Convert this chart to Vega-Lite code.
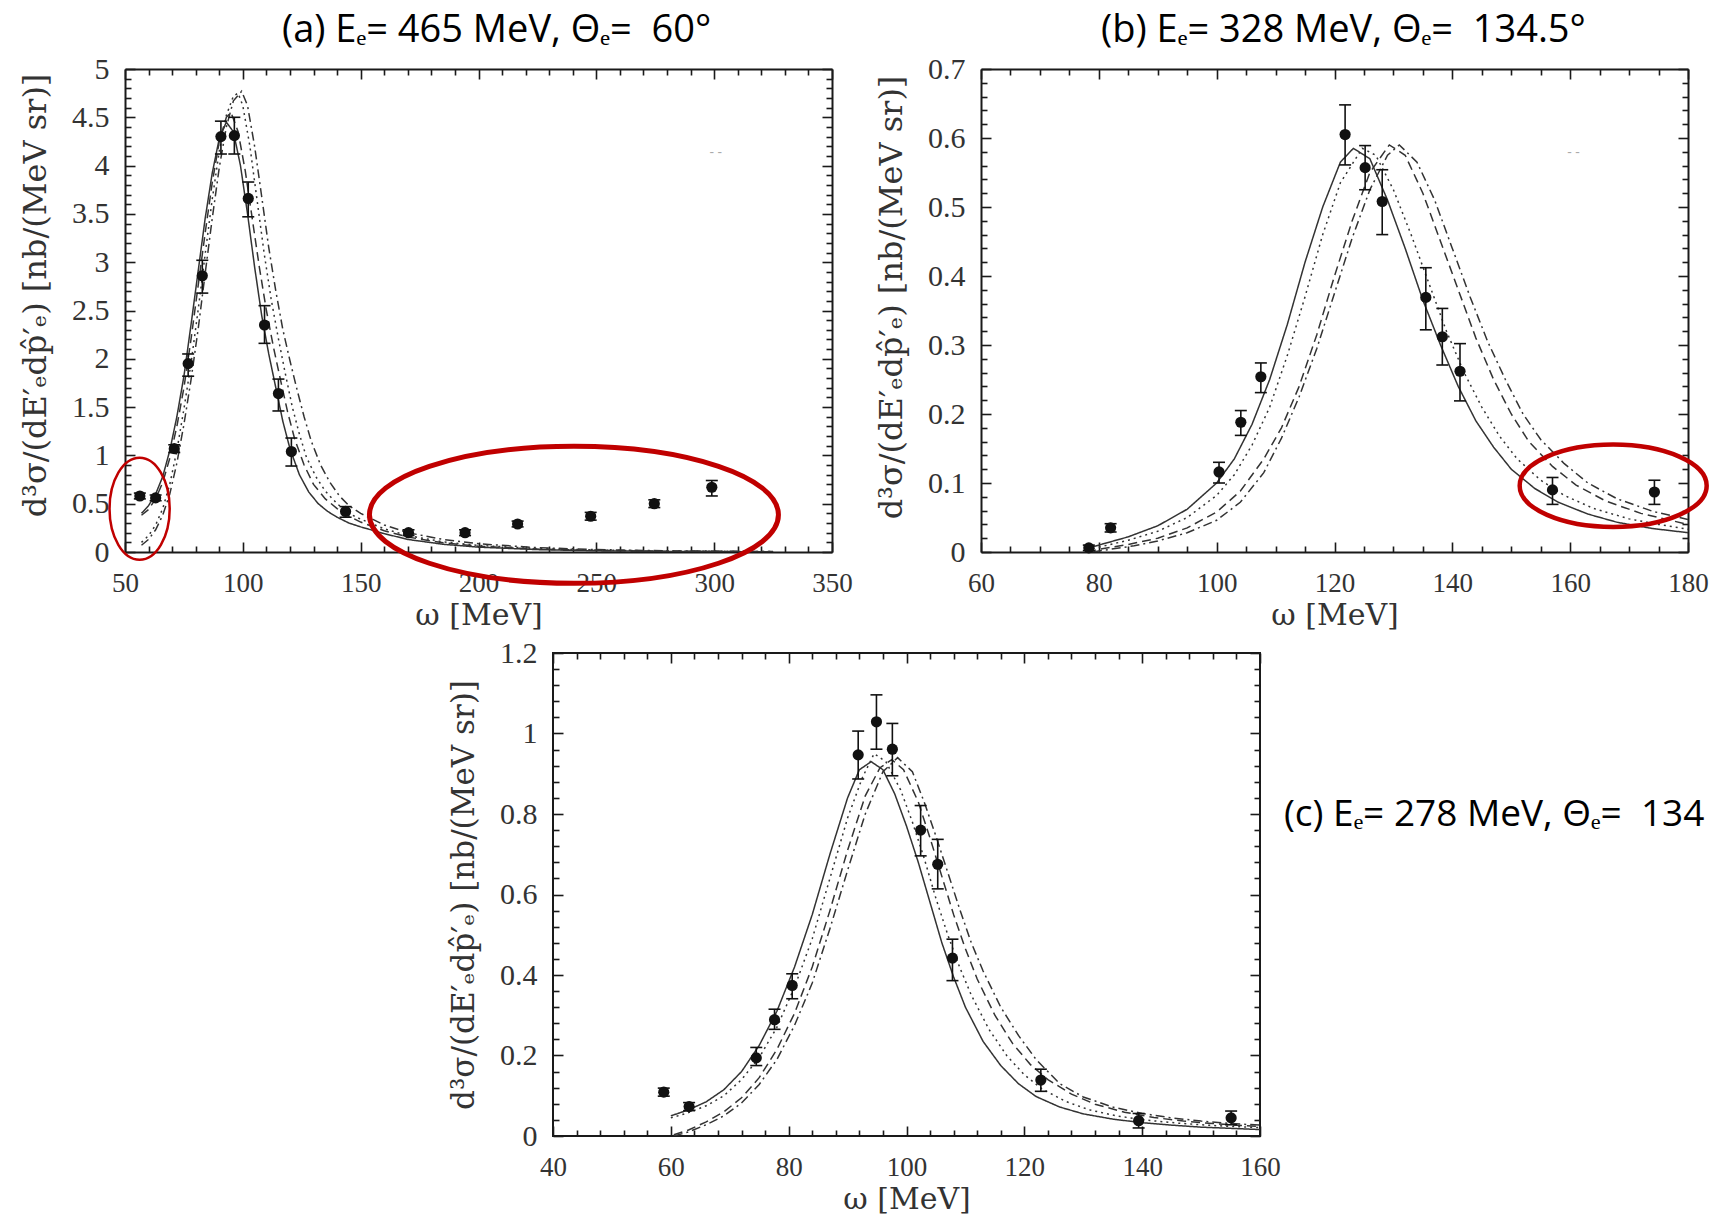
{
"$schema": "https://vega.github.io/schema/vega-lite/v6.json",
"background": "white",
"padding": {"left": 19, "top": 11, "right": 0, "bottom": 0},
"config": {
  "view": {"stroke": "#1a1a1a", "strokeWidth": 2},
  "axis": {"domain": false, "grid": false, "tickColor": "#1a1a1a", "tickWidth": 1.6, "domainColor": "#1a1a1a", "domainWidth": 2, "labelFont": "Liberation Serif", "labelFontSize": 27, "labelColor": "#333333", "titleFont": "DejaVu Serif", "titleFontSize": 30, "titleFontWeight": "normal", "titleColor": "#333333", "labelOverlap": false, "labelFlush": false, "labelBound": false},
  "line": {"strokeWidth": 1.5, "color": "#333333"}
},
"datasets": {
  "a_curves": [
    {"s":"solid","w":57,"v":0.40},{"s":"solid","w":60,"v":0.48},{"s":"solid","w":63,"v":0.60},{"s":"solid","w":66,"v":0.78},{"s":"solid","w":69,"v":1.05},{"s":"solid","w":72,"v":1.40},{"s":"solid","w":75,"v":1.82},{"s":"solid","w":78,"v":2.35},{"s":"solid","w":81,"v":2.90},{"s":"solid","w":84,"v":3.45},{"s":"solid","w":87,"v":3.92},{"s":"solid","w":90,"v":4.28},{"s":"solid","w":93,"v":4.45},{"s":"solid","w":96,"v":4.35},{"s":"solid","w":99,"v":4.0},{"s":"solid","w":102,"v":3.5},{"s":"solid","w":105,"v":2.95},{"s":"solid","w":108,"v":2.45},{"s":"solid","w":111,"v":2.05},{"s":"solid","w":114,"v":1.7},{"s":"solid","w":117,"v":1.35},{"s":"solid","w":120,"v":1.07},{"s":"solid","w":124,"v":0.80},{"s":"solid","w":128,"v":0.62},{"s":"solid","w":132,"v":0.50},{"s":"solid","w":136,"v":0.42},{"s":"solid","w":140,"v":0.36},{"s":"solid","w":145,"v":0.30},{"s":"solid","w":150,"v":0.26},{"s":"solid","w":160,"v":0.19},{"s":"solid","w":170,"v":0.13},{"s":"solid","w":185,"v":0.08},{"s":"solid","w":200,"v":0.05},{"s":"solid","w":225,"v":0.025},{"s":"solid","w":250,"v":0.012},{"s":"solid","w":280,"v":0.006},{"s":"solid","w":325,"v":0.002},
    {"s":"dashed","w":57,"v":0.38},{"s":"dashed","w":60,"v":0.44},{"s":"dashed","w":63,"v":0.55},{"s":"dashed","w":66,"v":0.72},{"s":"dashed","w":69,"v":0.97},{"s":"dashed","w":72,"v":1.30},{"s":"dashed","w":75,"v":1.70},{"s":"dashed","w":78,"v":2.20},{"s":"dashed","w":81,"v":2.75},{"s":"dashed","w":84,"v":3.30},{"s":"dashed","w":87,"v":3.82},{"s":"dashed","w":90,"v":4.25},{"s":"dashed","w":93,"v":4.50},{"s":"dashed","w":95,"v":4.55},{"s":"dashed","w":98,"v":4.35},{"s":"dashed","w":101,"v":3.95},{"s":"dashed","w":104,"v":3.45},{"s":"dashed","w":107,"v":2.95},{"s":"dashed","w":110,"v":2.50},{"s":"dashed","w":113,"v":2.12},{"s":"dashed","w":116,"v":1.78},{"s":"dashed","w":119,"v":1.45},{"s":"dashed","w":122,"v":1.17},{"s":"dashed","w":126,"v":0.90},{"s":"dashed","w":130,"v":0.70},{"s":"dashed","w":135,"v":0.55},{"s":"dashed","w":140,"v":0.45},{"s":"dashed","w":145,"v":0.37},{"s":"dashed","w":150,"v":0.31},{"s":"dashed","w":160,"v":0.22},{"s":"dashed","w":170,"v":0.155},{"s":"dashed","w":185,"v":0.095},{"s":"dashed","w":200,"v":0.06},{"s":"dashed","w":225,"v":0.03},{"s":"dashed","w":250,"v":0.016},{"s":"dashed","w":280,"v":0.008},{"s":"dashed","w":325,"v":0.003},
    {"s":"dotted","w":57,"v":0.10},{"s":"dotted","w":60,"v":0.17},{"s":"dotted","w":63,"v":0.28},{"s":"dotted","w":66,"v":0.45},{"s":"dotted","w":69,"v":0.70},{"s":"dotted","w":72,"v":1.05},{"s":"dotted","w":75,"v":1.48},{"s":"dotted","w":78,"v":1.95},{"s":"dotted","w":81,"v":2.50},{"s":"dotted","w":84,"v":3.08},{"s":"dotted","w":87,"v":3.65},{"s":"dotted","w":90,"v":4.15},{"s":"dotted","w":93,"v":4.52},{"s":"dotted","w":96,"v":4.72},{"s":"dotted","w":98,"v":4.75},{"s":"dotted","w":100,"v":4.62},{"s":"dotted","w":103,"v":4.20},{"s":"dotted","w":106,"v":3.65},{"s":"dotted","w":109,"v":3.10},{"s":"dotted","w":112,"v":2.62},{"s":"dotted","w":115,"v":2.22},{"s":"dotted","w":118,"v":1.85},{"s":"dotted","w":121,"v":1.50},{"s":"dotted","w":124,"v":1.22},{"s":"dotted","w":127,"v":0.98},{"s":"dotted","w":131,"v":0.78},{"s":"dotted","w":135,"v":0.63},{"s":"dotted","w":140,"v":0.50},{"s":"dotted","w":145,"v":0.40},{"s":"dotted","w":150,"v":0.34},{"s":"dotted","w":160,"v":0.24},{"s":"dotted","w":170,"v":0.17},{"s":"dotted","w":185,"v":0.105},{"s":"dotted","w":200,"v":0.068},{"s":"dotted","w":225,"v":0.035},{"s":"dotted","w":250,"v":0.02},{"s":"dotted","w":280,"v":0.01},{"s":"dotted","w":325,"v":0.004},
    {"s":"dashdot","w":57,"v":0.07},{"s":"dashdot","w":60,"v":0.13},{"s":"dashdot","w":63,"v":0.23},{"s":"dashdot","w":66,"v":0.38},{"s":"dashdot","w":69,"v":0.60},{"s":"dashdot","w":72,"v":0.92},{"s":"dashdot","w":75,"v":1.32},{"s":"dashdot","w":78,"v":1.78},{"s":"dashdot","w":81,"v":2.30},{"s":"dashdot","w":84,"v":2.88},{"s":"dashdot","w":87,"v":3.45},{"s":"dashdot","w":90,"v":3.98},{"s":"dashdot","w":93,"v":4.40},{"s":"dashdot","w":96,"v":4.67},{"s":"dashdot","w":99.5,"v":4.77},{"s":"dashdot","w":102,"v":4.62},{"s":"dashdot","w":105,"v":4.20},{"s":"dashdot","w":108,"v":3.68},{"s":"dashdot","w":111,"v":3.15},{"s":"dashdot","w":114,"v":2.70},{"s":"dashdot","w":117,"v":2.30},{"s":"dashdot","w":120,"v":1.98},{"s":"dashdot","w":123,"v":1.68},{"s":"dashdot","w":126,"v":1.40},{"s":"dashdot","w":129,"v":1.15},{"s":"dashdot","w":133,"v":0.90},{"s":"dashdot","w":137,"v":0.72},{"s":"dashdot","w":141,"v":0.58},{"s":"dashdot","w":145,"v":0.48},{"s":"dashdot","w":150,"v":0.40},{"s":"dashdot","w":160,"v":0.28},{"s":"dashdot","w":170,"v":0.20},{"s":"dashdot","w":185,"v":0.13},{"s":"dashdot","w":200,"v":0.085},{"s":"dashdot","w":225,"v":0.045},{"s":"dashdot","w":250,"v":0.025},{"s":"dashdot","w":280,"v":0.012},{"s":"dashdot","w":325,"v":0.005}
  ],
  "a_pts": [
    {"w":56.3,"v":0.58,"lo":0.55,"hi":0.61},{"w":63.0,"v":0.56,"lo":0.53,"hi":0.59},{"w":70.9,"v":1.07,"lo":1.03,"hi":1.11},{"w":76.8,"v":1.95,"lo":1.82,"hi":2.05},{"w":82.8,"v":2.86,"lo":2.68,"hi":3.02},{"w":90.7,"v":4.30,"lo":4.12,"hi":4.46},{"w":96.4,"v":4.31,"lo":4.12,"hi":4.50},{"w":102.3,"v":3.66,"lo":3.47,"hi":3.83},{"w":109.2,"v":2.35,"lo":2.16,"hi":2.55},{"w":115.1,"v":1.64,"lo":1.46,"hi":1.79},{"w":120.6,"v":1.04,"lo":0.89,"hi":1.18},{"w":143.6,"v":0.42,"lo":0.36,"hi":0.47},{"w":170.3,"v":0.20,"lo":0.17,"hi":0.23},{"w":194.3,"v":0.20,"lo":0.17,"hi":0.23},{"w":216.6,"v":0.29,"lo":0.26,"hi":0.32},{"w":247.6,"v":0.37,"lo":0.33,"hi":0.41},{"w":274.6,"v":0.50,"lo":0.46,"hi":0.54},{"w":299.0,"v":0.67,"lo":0.58,"hi":0.74}
  ],
  "b_curves": [
    {"s":"solid","w":78,"v":0.005},{"s":"solid","w":80,"v":0.010},{"s":"solid","w":85,"v":0.022},{"s":"solid","w":90,"v":0.038},{"s":"solid","w":95,"v":0.062},{"s":"solid","w":100,"v":0.100},{"s":"solid","w":103,"v":0.135},{"s":"solid","w":106,"v":0.185},{"s":"solid","w":109,"v":0.25},{"s":"solid","w":112,"v":0.33},{"s":"solid","w":115,"v":0.42},{"s":"solid","w":118,"v":0.50},{"s":"solid","w":121,"v":0.565},{"s":"solid","w":123.2,"v":0.585},{"s":"solid","w":126,"v":0.57},{"s":"solid","w":129,"v":0.51},{"s":"solid","w":132,"v":0.44},{"s":"solid","w":135,"v":0.365},{"s":"solid","w":138,"v":0.30},{"s":"solid","w":141,"v":0.24},{"s":"solid","w":144,"v":0.19},{"s":"solid","w":147,"v":0.152},{"s":"solid","w":150,"v":0.12},{"s":"solid","w":154,"v":0.092},{"s":"solid","w":158,"v":0.072},{"s":"solid","w":163,"v":0.055},{"s":"solid","w":168,"v":0.043},{"s":"solid","w":174,"v":0.034},{"s":"solid","w":180,"v":0.028},
    {"s":"dotted","w":78,"v":0.003},{"s":"dotted","w":80,"v":0.007},{"s":"dotted","w":85,"v":0.017},{"s":"dotted","w":90,"v":0.030},{"s":"dotted","w":95,"v":0.050},{"s":"dotted","w":100,"v":0.082},{"s":"dotted","w":103,"v":0.112},{"s":"dotted","w":106,"v":0.155},{"s":"dotted","w":109,"v":0.21},{"s":"dotted","w":112,"v":0.285},{"s":"dotted","w":115,"v":0.37},{"s":"dotted","w":118,"v":0.46},{"s":"dotted","w":121,"v":0.535},{"s":"dotted","w":124.7,"v":0.585},{"s":"dotted","w":127,"v":0.575},{"s":"dotted","w":130,"v":0.525},{"s":"dotted","w":133,"v":0.46},{"s":"dotted","w":136,"v":0.39},{"s":"dotted","w":139,"v":0.32},{"s":"dotted","w":142,"v":0.26},{"s":"dotted","w":145,"v":0.21},{"s":"dotted","w":148,"v":0.168},{"s":"dotted","w":151,"v":0.135},{"s":"dotted","w":155,"v":0.104},{"s":"dotted","w":159,"v":0.082},{"s":"dotted","w":164,"v":0.063},{"s":"dotted","w":170,"v":0.048},{"s":"dotted","w":175,"v":0.04},{"s":"dotted","w":180,"v":0.033},
    {"s":"dashed","w":78,"v":0.0},{"s":"dashed","w":80,"v":0.004},{"s":"dashed","w":85,"v":0.011},{"s":"dashed","w":90,"v":0.020},{"s":"dashed","w":95,"v":0.035},{"s":"dashed","w":100,"v":0.058},{"s":"dashed","w":104,"v":0.088},{"s":"dashed","w":108,"v":0.135},{"s":"dashed","w":111,"v":0.18},{"s":"dashed","w":114,"v":0.24},{"s":"dashed","w":117,"v":0.315},{"s":"dashed","w":120,"v":0.40},{"s":"dashed","w":123,"v":0.48},{"s":"dashed","w":126,"v":0.55},{"s":"dashed","w":129.3,"v":0.59},{"s":"dashed","w":132,"v":0.575},{"s":"dashed","w":135,"v":0.52},{"s":"dashed","w":138,"v":0.45},{"s":"dashed","w":141,"v":0.38},{"s":"dashed","w":144,"v":0.31},{"s":"dashed","w":147,"v":0.25},{"s":"dashed","w":150,"v":0.20},{"s":"dashed","w":153,"v":0.16},{"s":"dashed","w":157,"v":0.124},{"s":"dashed","w":161,"v":0.097},{"s":"dashed","w":166,"v":0.074},{"s":"dashed","w":172,"v":0.056},{"s":"dashed","w":180,"v":0.04},
    {"s":"dashdot","w":79,"v":0.0},{"s":"dashdot","w":82,"v":0.004},{"s":"dashdot","w":86,"v":0.009},{"s":"dashdot","w":90,"v":0.016},{"s":"dashdot","w":95,"v":0.028},{"s":"dashdot","w":100,"v":0.046},{"s":"dashdot","w":104,"v":0.072},{"s":"dashdot","w":108,"v":0.115},{"s":"dashdot","w":111,"v":0.165},{"s":"dashdot","w":114,"v":0.225},{"s":"dashdot","w":117,"v":0.295},{"s":"dashdot","w":120,"v":0.375},{"s":"dashdot","w":123,"v":0.455},{"s":"dashdot","w":126,"v":0.525},{"s":"dashdot","w":129,"v":0.575},{"s":"dashdot","w":131,"v":0.59},{"s":"dashdot","w":134,"v":0.565},{"s":"dashdot","w":137,"v":0.51},{"s":"dashdot","w":140,"v":0.44},{"s":"dashdot","w":143,"v":0.37},{"s":"dashdot","w":146,"v":0.305},{"s":"dashdot","w":149,"v":0.25},{"s":"dashdot","w":152,"v":0.20},{"s":"dashdot","w":155,"v":0.163},{"s":"dashdot","w":159,"v":0.128},{"s":"dashdot","w":163,"v":0.10},{"s":"dashdot","w":168,"v":0.077},{"s":"dashdot","w":174,"v":0.059},{"s":"dashdot","w":180,"v":0.047}
  ],
  "b_pts": [
    {"w":78.3,"v":0.006,"lo":0.002,"hi":0.010},{"w":82.0,"v":0.035,"lo":0.029,"hi":0.041},{"w":100.4,"v":0.116,"lo":0.100,"hi":0.130},{"w":104.1,"v":0.188,"lo":0.169,"hi":0.205},{"w":107.5,"v":0.254,"lo":0.231,"hi":0.274},{"w":121.8,"v":0.605,"lo":0.561,"hi":0.648},{"w":125.2,"v":0.557,"lo":0.525,"hi":0.589},{"w":128.1,"v":0.508,"lo":0.460,"hi":0.554},{"w":135.5,"v":0.369,"lo":0.322,"hi":0.412},{"w":138.3,"v":0.312,"lo":0.271,"hi":0.353},{"w":141.3,"v":0.262,"lo":0.219,"hi":0.302},{"w":157.0,"v":0.090,"lo":0.069,"hi":0.108},{"w":174.3,"v":0.087,"lo":0.069,"hi":0.104}
  ],
  "c_curves": [
    {"s":"solid","w":60,"v":0.050},{"s":"solid","w":63,"v":0.065},{"s":"solid","w":66,"v":0.085},{"s":"solid","w":69,"v":0.115},{"s":"solid","w":72,"v":0.16},{"s":"solid","w":75,"v":0.225},{"s":"solid","w":78,"v":0.31},{"s":"solid","w":81,"v":0.42},{"s":"solid","w":84,"v":0.55},{"s":"solid","w":87,"v":0.70},{"s":"solid","w":90,"v":0.84},{"s":"solid","w":92,"v":0.91},{"s":"solid","w":94,"v":0.93},{"s":"solid","w":96,"v":0.91},{"s":"solid","w":98,"v":0.85},{"s":"solid","w":100,"v":0.77},{"s":"solid","w":102,"v":0.68},{"s":"solid","w":104,"v":0.58},{"s":"solid","w":106,"v":0.48},{"s":"solid","w":108,"v":0.395},{"s":"solid","w":110,"v":0.32},{"s":"solid","w":113,"v":0.235},{"s":"solid","w":116,"v":0.175},{"s":"solid","w":119,"v":0.13},{"s":"solid","w":122,"v":0.098},{"s":"solid","w":126,"v":0.072},{"s":"solid","w":130,"v":0.055},{"s":"solid","w":135,"v":0.042},{"s":"solid","w":140,"v":0.033},{"s":"solid","w":145,"v":0.027},{"s":"solid","w":150,"v":0.022},{"s":"solid","w":155,"v":0.019},{"s":"solid","w":160,"v":0.016},
    {"s":"dotted","w":60,"v":0.045},{"s":"dotted","w":63,"v":0.058},{"s":"dotted","w":66,"v":0.075},{"s":"dotted","w":69,"v":0.10},{"s":"dotted","w":72,"v":0.14},{"s":"dotted","w":75,"v":0.195},{"s":"dotted","w":78,"v":0.27},{"s":"dotted","w":81,"v":0.37},{"s":"dotted","w":84,"v":0.49},{"s":"dotted","w":87,"v":0.64},{"s":"dotted","w":90,"v":0.79},{"s":"dotted","w":92.5,"v":0.89},{"s":"dotted","w":94.5,"v":0.95},{"s":"dotted","w":96.5,"v":0.93},{"s":"dotted","w":99,"v":0.86},{"s":"dotted","w":101,"v":0.78},{"s":"dotted","w":103,"v":0.69},{"s":"dotted","w":105,"v":0.59},{"s":"dotted","w":107,"v":0.50},{"s":"dotted","w":109,"v":0.42},{"s":"dotted","w":111,"v":0.35},{"s":"dotted","w":114,"v":0.265},{"s":"dotted","w":117,"v":0.20},{"s":"dotted","w":120,"v":0.152},{"s":"dotted","w":123,"v":0.117},{"s":"dotted","w":127,"v":0.086},{"s":"dotted","w":131,"v":0.065},{"s":"dotted","w":136,"v":0.049},{"s":"dotted","w":141,"v":0.039},{"s":"dotted","w":146,"v":0.032},{"s":"dotted","w":151,"v":0.027},{"s":"dotted","w":156,"v":0.023},{"s":"dotted","w":160,"v":0.021},
    {"s":"dashed","w":60.5,"v":0.003},{"s":"dashed","w":63,"v":0.015},{"s":"dashed","w":66,"v":0.035},{"s":"dashed","w":69,"v":0.06},{"s":"dashed","w":72,"v":0.095},{"s":"dashed","w":75,"v":0.145},{"s":"dashed","w":78,"v":0.215},{"s":"dashed","w":81,"v":0.305},{"s":"dashed","w":84,"v":0.42},{"s":"dashed","w":87,"v":0.56},{"s":"dashed","w":90,"v":0.71},{"s":"dashed","w":93,"v":0.845},{"s":"dashed","w":95.5,"v":0.915},{"s":"dashed","w":97.5,"v":0.935},{"s":"dashed","w":99.5,"v":0.91},{"s":"dashed","w":102,"v":0.83},{"s":"dashed","w":104,"v":0.74},{"s":"dashed","w":106,"v":0.645},{"s":"dashed","w":108,"v":0.55},{"s":"dashed","w":110,"v":0.465},{"s":"dashed","w":112,"v":0.39},{"s":"dashed","w":115,"v":0.30},{"s":"dashed","w":118,"v":0.23},{"s":"dashed","w":121,"v":0.178},{"s":"dashed","w":124,"v":0.14},{"s":"dashed","w":128,"v":0.104},{"s":"dashed","w":132,"v":0.079},{"s":"dashed","w":137,"v":0.059},{"s":"dashed","w":142,"v":0.046},{"s":"dashed","w":147,"v":0.037},{"s":"dashed","w":152,"v":0.031},{"s":"dashed","w":156,"v":0.027},{"s":"dashed","w":160,"v":0.024},
    {"s":"dashdot","w":60.5,"v":0.0},{"s":"dashdot","w":63,"v":0.01},{"s":"dashdot","w":66,"v":0.028},{"s":"dashdot","w":69,"v":0.05},{"s":"dashdot","w":72,"v":0.082},{"s":"dashdot","w":75,"v":0.128},{"s":"dashdot","w":78,"v":0.19},{"s":"dashdot","w":81,"v":0.275},{"s":"dashdot","w":84,"v":0.38},{"s":"dashdot","w":87,"v":0.515},{"s":"dashdot","w":90,"v":0.66},{"s":"dashdot","w":93,"v":0.80},{"s":"dashdot","w":96,"v":0.905},{"s":"dashdot","w":98.5,"v":0.94},{"s":"dashdot","w":101,"v":0.905},{"s":"dashdot","w":103,"v":0.83},{"s":"dashdot","w":105,"v":0.745},{"s":"dashdot","w":107,"v":0.655},{"s":"dashdot","w":109,"v":0.565},{"s":"dashdot","w":111,"v":0.48},{"s":"dashdot","w":113,"v":0.41},{"s":"dashdot","w":116,"v":0.32},{"s":"dashdot","w":119,"v":0.25},{"s":"dashdot","w":122,"v":0.19},{"s":"dashdot","w":126,"v":0.13},{"s":"dashdot","w":130,"v":0.097},{"s":"dashdot","w":135,"v":0.072},{"s":"dashdot","w":140,"v":0.056},{"s":"dashdot","w":145,"v":0.045},{"s":"dashdot","w":150,"v":0.037},{"s":"dashdot","w":155,"v":0.031},{"s":"dashdot","w":160,"v":0.027}
  ],
  "c_pts": [
    {"w":58.8,"v":0.109,"lo":0.099,"hi":0.119},{"w":63.1,"v":0.073,"lo":0.063,"hi":0.083},{"w":74.5,"v":0.194,"lo":0.175,"hi":0.220},{"w":77.6,"v":0.289,"lo":0.265,"hi":0.315},{"w":80.6,"v":0.374,"lo":0.341,"hi":0.403},{"w":91.8,"v":0.947,"lo":0.887,"hi":1.006},{"w":94.9,"v":1.029,"lo":0.961,"hi":1.096},{"w":97.6,"v":0.961,"lo":0.895,"hi":1.025},{"w":102.4,"v":0.760,"lo":0.696,"hi":0.821},{"w":105.3,"v":0.675,"lo":0.614,"hi":0.737},{"w":107.8,"v":0.442,"lo":0.386,"hi":0.489},{"w":122.8,"v":0.139,"lo":0.111,"hi":0.166},{"w":139.4,"v":0.038,"lo":0.020,"hi":0.056},{"w":155.1,"v":0.045,"lo":0.028,"hi":0.062}
  ]
},
"center": true,
"bounds": "flush",
"spacing": 101,
"vconcat": [
  {
    "width": 1563, "height": 483,
    "view": {"stroke": null},
    "resolve": {"scale": {"x": "independent", "y": "independent"}, "axis": {"x": "independent", "y": "independent"}},
    "layer": [
      {"data": {"name": "a_curves"}, "mark": {"type": "line", "clip": true},
       "encoding": {
         "x": {"field": "w", "type": "quantitative", "scale": {"domain": [50, 350], "range": [0, 707], "nice": false, "zero": false}, "axis": {"orient": "bottom", "values": [50,100,150,200,250,300,350], "ticks": false, "labelPadding": 18, "labelExpr": "format(datum.value, '~g')", "title": "ω [MeV]", "titlePadding": 4}},
         "y": {"field": "v", "type": "quantitative", "scale": {"domain": [0, 5], "nice": false, "zero": false}, "axis": {"orient": "left", "values": [0,0.5,1,1.5,2,2.5,3,3.5,4,4.5,5], "ticks": false, "labelPadding": 16, "labelFontSize": 30, "labelExpr": "format(datum.value, '~g')", "title": "d³σ/(dE′ₑdp̂′ₑ) [nb/(MeV sr)]", "titleFontSize": 32, "titlePadding": 19, "titleY": 226}},
         "strokeDash": {"field": "s", "type": "nominal", "scale": {"domain": ["solid","dashed","dotted","dashdot"], "range": [[1,0],[9,5],[2,4],[9,4,2,4]]}, "legend": null}
       }},
      {"data": {"name": "a_pts"}, "mark": {"type": "rule", "color": "#111111", "strokeWidth": 1.6},
       "encoding": {
         "x": {"field": "w", "type": "quantitative", "scale": {"domain": [50, 350], "range": [0, 707], "nice": false, "zero": false}, "axis": {"orient": "bottom", "values": [50,100,150,200,250,300,350], "labels": false, "title": null, "tickSize": -10, "domain": true}},
         "y": {"field": "lo", "type": "quantitative", "scale": {"domain": [0, 5], "nice": false, "zero": false}, "axis": {"orient": "left", "values": [0,0.5,1,1.5,2,2.5,3,3.5,4,4.5,5], "labels": false, "title": null, "tickSize": -10, "domain": true}},
         "y2": {"field": "hi"}
       }},
      {"data": {"name": "a_pts"}, "mark": {"type": "tick", "orient": "horizontal", "size": 12, "thickness": 1.6, "color": "#111111", "opacity": 1},
       "encoding": {
         "x": {"field": "w", "type": "quantitative", "scale": {"domain": [50, 350], "range": [0, 707], "nice": false, "zero": false}, "axis": {"orient": "bottom", "values": [60,70,80,90,110,120,130,140,160,170,180,190,210,220,230,240,260,270,280,290,310,320,330,340], "labels": false, "title": null, "tickSize": -6}},
         "y": {"field": "lo", "type": "quantitative", "scale": {"domain": [0, 5], "nice": false, "zero": false}, "axis": {"orient": "left", "values": [0.1,0.2,0.3,0.4,0.6,0.7,0.8,0.9,1.1,1.2,1.3,1.4,1.6,1.7,1.8,1.9,2.1,2.2,2.3,2.4,2.6,2.7,2.8,2.9,3.1,3.2,3.3,3.4,3.6,3.7,3.8,3.9,4.1,4.2,4.3,4.4,4.6,4.7,4.8,4.9], "labels": false, "title": null, "tickSize": -6}}
       }},
      {"data": {"name": "a_pts"}, "mark": {"type": "tick", "orient": "horizontal", "size": 12, "thickness": 1.6, "color": "#111111", "opacity": 1},
       "encoding": {
         "x": {"field": "w", "type": "quantitative", "scale": {"domain": [50, 350], "range": [0, 707], "nice": false, "zero": false}, "axis": {"orient": "top", "values": [50,100,150,200,250,300,350], "labels": false, "title": null, "tickSize": -10, "domain": true}},
         "y": {"field": "hi", "type": "quantitative", "scale": {"domain": [0, 5], "nice": false, "zero": false}, "axis": {"orient": "right", "offset": -856, "values": [0,0.5,1,1.5,2,2.5,3,3.5,4,4.5,5], "labels": false, "title": null, "tickSize": -10, "domain": true}}
       }},
      {"data": {"name": "a_pts"}, "mark": {"type": "point", "filled": true, "size": 125, "color": "#111111", "opacity": 1},
       "encoding": {
         "x": {"field": "w", "type": "quantitative", "scale": {"domain": [50, 350], "range": [0, 707], "nice": false, "zero": false}, "axis": {"orient": "top", "values": [60,70,80,90,110,120,130,140,160,170,180,190,210,220,230,240,260,270,280,290,310,320,330,340], "labels": false, "title": null, "tickSize": -6}},
         "y": {"field": "v", "type": "quantitative", "scale": {"domain": [0, 5], "nice": false, "zero": false}, "axis": {"orient": "right", "offset": -856, "values": [0.1,0.2,0.3,0.4,0.6,0.7,0.8,0.9,1.1,1.2,1.3,1.4,1.6,1.7,1.8,1.9,2.1,2.2,2.3,2.4,2.6,2.7,2.8,2.9,3.1,3.2,3.3,3.4,3.6,3.7,3.8,3.9,4.1,4.2,4.3,4.4,4.6,4.7,4.8,4.9], "labels": false, "title": null, "tickSize": -6}}
       }},
      {"data": {"values": [{"w": 240.5, "v": 0.385}]}, "mark": {"type": "point", "shape": "M -1 0 C -1 -0.185 -0.5523 -0.335 0 -0.335 C 0.5523 -0.335 1 -0.185 1 0 C 1 0.185 0.5523 0.335 0 0.335 C -0.5523 0.335 -1 0.185 -1 0 Z", "size": 167281, "filled": false, "stroke": "#c00000", "strokeWidth": 5, "opacity": 1},
       "encoding": {
         "x": {"field": "w", "type": "quantitative", "scale": {"domain": [50, 350], "range": [0, 707], "nice": false, "zero": false}, "axis": null},
         "y": {"field": "v", "type": "quantitative", "scale": {"domain": [0, 5], "nice": false, "zero": false}, "axis": null}
       }},
      {"data": {"values": [{"w": 56.2, "v": 0.448}]}, "mark": {"type": "point", "shape": "M 0 -1 C 0.326 -1 0.59 -0.5523 0.59 0 C 0.59 0.5523 0.326 1 0 1 C -0.326 1 -0.59 0.5523 -0.59 0 C -0.59 -0.5523 -0.326 -1 0 -1 Z", "size": 10404, "filled": false, "stroke": "#c00000", "strokeWidth": 2.5, "opacity": 1},
       "encoding": {
         "x": {"field": "w", "type": "quantitative", "scale": {"domain": [50, 350], "range": [0, 707], "nice": false, "zero": false}, "axis": null},
         "y": {"field": "v", "type": "quantitative", "scale": {"domain": [0, 5], "nice": false, "zero": false}, "axis": null}
       }},
      {"data": {"values": [{"w": 298, "v": 4.09, "t": "- -"}, {"w": 116.6, "v": 5.28, "t": "(a) Eₑ= 465 MeV, Θₑ= \u00a060°"}]}, "mark": {"type": "text", "align": "left", "baseline": "alphabetic", "font": "Open Sans", "fontSize": 38, "color": "#000000"},
       "encoding": {
         "x": {"field": "w", "type": "quantitative", "scale": {"domain": [50, 350], "range": [0, 707], "nice": false, "zero": false}, "axis": null},
         "y": {"field": "v", "type": "quantitative", "scale": {"domain": [0, 5], "nice": false, "zero": false}, "axis": null},
         "text": {"field": "t"},
         "size": {"condition": {"test": "datum.t == '- -'", "value": 14}, "value": 38},
         "color": {"condition": {"test": "datum.t == '- -'", "value": "#aaaaaa"}, "value": "#000000"}
       }},
      {"data": {"name": "b_curves"}, "mark": {"type": "line", "clip": true},
       "encoding": {
         "x": {"field": "w", "type": "quantitative", "scale": {"domain": [60, 180], "range": [856, 1563], "nice": false, "zero": false}, "axis": {"orient": "bottom", "values": [60,80,100,120,140,160,180], "ticks": false, "labelPadding": 18, "labelExpr": "format(datum.value, '~g')", "title": "ω [MeV]", "titlePadding": 4}},
         "y": {"field": "v", "type": "quantitative", "scale": {"domain": [0, 0.7], "nice": false, "zero": false}, "axis": {"orient": "left", "offset": -856, "values": [0,0.1,0.2,0.3,0.4,0.5,0.6,0.7], "ticks": false, "labelPadding": 16, "labelFontSize": 30, "labelExpr": "format(datum.value, '~g')", "title": "d³σ/(dE′ₑdp̂′ₑ) [nb/(MeV sr)]", "titleFontSize": 32, "titlePadding": 19, "titleY": 228}},
         "strokeDash": {"field": "s", "type": "nominal", "scale": {"domain": ["solid","dashed","dotted","dashdot"], "range": [[1,0],[9,5],[2,4],[9,4,2,4]]}, "legend": null}
       }},
      {"data": {"name": "b_pts"}, "mark": {"type": "rule", "color": "#111111", "strokeWidth": 1.6},
       "encoding": {
         "x": {"field": "w", "type": "quantitative", "scale": {"domain": [60, 180], "range": [856, 1563], "nice": false, "zero": false}, "axis": {"orient": "bottom", "values": [60,80,100,120,140,160,180], "labels": false, "title": null, "tickSize": -10, "domain": true}},
         "y": {"field": "lo", "type": "quantitative", "scale": {"domain": [0, 0.7], "nice": false, "zero": false}, "axis": {"orient": "left", "offset": -856, "values": [0,0.1,0.2,0.3,0.4,0.5,0.6,0.7], "labels": false, "title": null, "tickSize": -10, "domain": true}},
         "y2": {"field": "hi"}
       }},
      {"data": {"name": "b_pts"}, "mark": {"type": "tick", "orient": "horizontal", "size": 12, "thickness": 1.6, "color": "#111111", "opacity": 1},
       "encoding": {
         "x": {"field": "w", "type": "quantitative", "scale": {"domain": [60, 180], "range": [856, 1563], "nice": false, "zero": false}, "axis": {"orient": "bottom", "values": [65,70,75,85,90,95,105,110,115,125,130,135,145,150,155,165,170,175], "labels": false, "title": null, "tickSize": -6}},
         "y": {"field": "lo", "type": "quantitative", "scale": {"domain": [0, 0.7], "nice": false, "zero": false}, "axis": {"orient": "left", "offset": -856, "values": [0.02,0.04,0.06,0.08,0.12,0.14,0.16,0.18,0.22,0.24,0.26,0.28,0.32,0.34,0.36,0.38,0.42,0.44,0.46,0.48,0.52,0.54,0.56,0.58,0.62,0.64,0.66,0.68], "labels": false, "title": null, "tickSize": -6}}
       }},
      {"data": {"name": "b_pts"}, "mark": {"type": "tick", "orient": "horizontal", "size": 12, "thickness": 1.6, "color": "#111111", "opacity": 1},
       "encoding": {
         "x": {"field": "w", "type": "quantitative", "scale": {"domain": [60, 180], "range": [856, 1563], "nice": false, "zero": false}, "axis": {"orient": "top", "values": [60,80,100,120,140,160,180], "labels": false, "title": null, "tickSize": -10, "domain": true}},
         "y": {"field": "hi", "type": "quantitative", "scale": {"domain": [0, 0.7], "nice": false, "zero": false}, "axis": {"orient": "right", "values": [0,0.1,0.2,0.3,0.4,0.5,0.6,0.7], "labels": false, "title": null, "tickSize": -10, "domain": true}}
       }},
      {"data": {"name": "b_pts"}, "mark": {"type": "point", "filled": true, "size": 125, "color": "#111111", "opacity": 1},
       "encoding": {
         "x": {"field": "w", "type": "quantitative", "scale": {"domain": [60, 180], "range": [856, 1563], "nice": false, "zero": false}, "axis": {"orient": "top", "values": [65,70,75,85,90,95,105,110,115,125,130,135,145,150,155,165,170,175], "labels": false, "title": null, "tickSize": -6}},
         "y": {"field": "v", "type": "quantitative", "scale": {"domain": [0, 0.7], "nice": false, "zero": false}, "axis": {"orient": "right", "values": [0.02,0.04,0.06,0.08,0.12,0.14,0.16,0.18,0.22,0.24,0.26,0.28,0.32,0.34,0.36,0.38,0.42,0.44,0.46,0.48,0.52,0.54,0.56,0.58,0.62,0.64,0.66,0.68], "labels": false, "title": null, "tickSize": -6}}
       }},
      {"data": {"values": [{"w": 167.3, "v": 0.096}]}, "mark": {"type": "point", "shape": "M -1 0 C -1 -0.243 -0.5523 -0.44 0 -0.44 C 0.5523 -0.44 1 -0.243 1 0 C 1 0.243 0.5523 0.44 0 0.44 C -0.5523 0.44 -1 0.243 -1 0 Z", "size": 34969, "filled": false, "stroke": "#c00000", "strokeWidth": 4.5, "opacity": 1},
       "encoding": {
         "x": {"field": "w", "type": "quantitative", "scale": {"domain": [60, 180], "range": [856, 1563], "nice": false, "zero": false}, "axis": null},
         "y": {"field": "v", "type": "quantitative", "scale": {"domain": [0, 0.7], "nice": false, "zero": false}, "axis": null}
       }},
      {"data": {"values": [{"w": 159.5, "v": 0.572, "t": "- -"}, {"w": 80.37, "v": 0.739, "t": "(b) Eₑ= 328 MeV, Θₑ= \u00a0134.5°"}]}, "mark": {"type": "text", "align": "left", "baseline": "alphabetic", "font": "Open Sans", "fontSize": 38, "color": "#000000"},
       "encoding": {
         "x": {"field": "w", "type": "quantitative", "scale": {"domain": [60, 180], "range": [856, 1563], "nice": false, "zero": false}, "axis": null},
         "y": {"field": "v", "type": "quantitative", "scale": {"domain": [0, 0.7], "nice": false, "zero": false}, "axis": null},
         "text": {"field": "t"},
         "size": {"condition": {"test": "datum.t == '- -'", "value": 14}, "value": 38},
         "color": {"condition": {"test": "datum.t == '- -'", "value": "#aaaaaa"}, "value": "#000000"}
       }}
    ]
  },
  {
    "width": 707, "height": 483,
    "resolve": {"axis": {"x": "independent", "y": "independent"}},
    "layer": [
      {"data": {"name": "c_curves"}, "mark": {"type": "line", "clip": true},
       "encoding": {
         "x": {"field": "w", "type": "quantitative", "scale": {"domain": [40, 160], "nice": false, "zero": false}, "axis": {"orient": "bottom", "values": [40,60,80,100,120,140,160], "ticks": false, "labelPadding": 18, "labelExpr": "format(datum.value, '~g')", "title": "ω [MeV]", "titlePadding": 4}},
         "y": {"field": "v", "type": "quantitative", "scale": {"domain": [0, 1.2], "nice": false, "zero": false}, "axis": {"orient": "left", "values": [0,0.2,0.4,0.6,0.8,1,1.2], "ticks": false, "labelPadding": 16, "labelFontSize": 30, "labelExpr": "format(datum.value, '~g')", "title": "d³σ/(dE′ₑdp̂′ₑ) [nb/(MeV sr)]", "titleFontSize": 31, "titlePadding": 19}},
         "strokeDash": {"field": "s", "type": "nominal", "scale": {"domain": ["solid","dashed","dotted","dashdot"], "range": [[1,0],[9,5],[2,4],[9,4,2,4]]}, "legend": null}
       }},
      {"data": {"name": "c_pts"}, "mark": {"type": "rule", "color": "#111111", "strokeWidth": 1.6},
       "encoding": {
         "x": {"field": "w", "type": "quantitative", "scale": {"domain": [40, 160], "nice": false, "zero": false}, "axis": {"orient": "bottom", "values": [40,60,80,100,120,140,160], "labels": false, "title": null, "tickSize": -10}},
         "y": {"field": "lo", "type": "quantitative", "scale": {"domain": [0, 1.2], "nice": false, "zero": false}, "axis": {"orient": "left", "values": [0,0.2,0.4,0.6,0.8,1,1.2], "labels": false, "title": null, "tickSize": -10}},
         "y2": {"field": "hi"}
       }},
      {"data": {"name": "c_pts"}, "mark": {"type": "tick", "orient": "horizontal", "size": 12, "thickness": 1.6, "color": "#111111", "opacity": 1},
       "encoding": {
         "x": {"field": "w", "type": "quantitative", "scale": {"domain": [40, 160], "nice": false, "zero": false}, "axis": {"orient": "bottom", "values": [44,48,52,56,64,68,72,76,84,88,92,96,104,108,112,116,124,128,132,136,144,148,152,156], "labels": false, "title": null, "tickSize": -6}},
         "y": {"field": "lo", "type": "quantitative", "scale": {"domain": [0, 1.2], "nice": false, "zero": false}, "axis": {"orient": "left", "values": [0.04,0.08,0.12,0.16,0.24,0.28,0.32,0.36,0.44,0.48,0.52,0.56,0.64,0.68,0.72,0.76,0.84,0.88,0.92,0.96,1.04,1.08,1.12,1.16], "labels": false, "title": null, "tickSize": -6}}
       }},
      {"data": {"name": "c_pts"}, "mark": {"type": "tick", "orient": "horizontal", "size": 12, "thickness": 1.6, "color": "#111111", "opacity": 1},
       "encoding": {
         "x": {"field": "w", "type": "quantitative", "scale": {"domain": [40, 160], "nice": false, "zero": false}, "axis": {"orient": "top", "values": [40,60,80,100,120,140,160], "labels": false, "title": null, "tickSize": -10}},
         "y": {"field": "hi", "type": "quantitative", "scale": {"domain": [0, 1.2], "nice": false, "zero": false}, "axis": {"orient": "right", "values": [0,0.2,0.4,0.6,0.8,1,1.2], "labels": false, "title": null, "tickSize": -10}}
       }},
      {"data": {"name": "c_pts"}, "mark": {"type": "point", "filled": true, "size": 125, "color": "#111111", "opacity": 1},
       "encoding": {
         "x": {"field": "w", "type": "quantitative", "scale": {"domain": [40, 160], "nice": false, "zero": false}, "axis": {"orient": "top", "values": [44,48,52,56,64,68,72,76,84,88,92,96,104,108,112,116,124,128,132,136,144,148,152,156], "labels": false, "title": null, "tickSize": -6}},
         "y": {"field": "v", "type": "quantitative", "scale": {"domain": [0, 1.2], "nice": false, "zero": false}, "axis": {"orient": "right", "values": [0.04,0.08,0.12,0.16,0.24,0.28,0.32,0.36,0.44,0.48,0.52,0.56,0.64,0.68,0.72,0.76,0.84,0.88,0.92,0.96,1.04,1.08,1.12,1.16], "labels": false, "title": null, "tickSize": -6}}
       }},
      {"data": {"values": [{"w": 164.06, "v": 0.771, "t": "(c) Eₑ= 278 MeV, Θₑ= \u00a0134.5°"}]}, "mark": {"type": "text", "align": "left", "baseline": "alphabetic", "font": "Open Sans", "fontSize": 37, "color": "#000000", "limit": 428, "ellipsis": "\u200b"},
       "encoding": {
         "x": {"field": "w", "type": "quantitative", "scale": {"domain": [40, 160], "nice": false, "zero": false}, "axis": null},
         "y": {"field": "v", "type": "quantitative", "scale": {"domain": [0, 1.2], "nice": false, "zero": false}, "axis": null},
         "text": {"field": "t"}
       }}
    ]
  }
]
}
